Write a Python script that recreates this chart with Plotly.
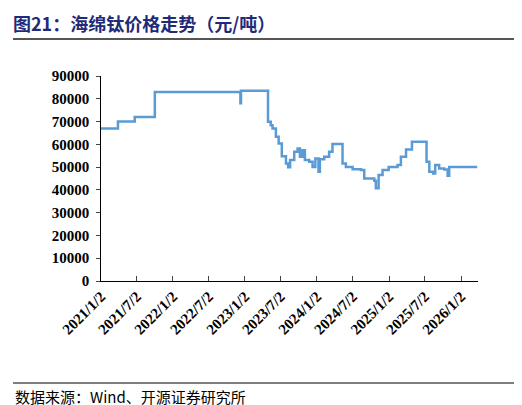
import plotly.graph_objects as go

dates = ["2021-01-02", "2021-03-29", "2021-06-22", "2021-10-02", "2022-12-10", "2022-12-13",
         "2023-04-26", "2023-04-29", "2023-05-13", "2023-05-22", "2023-06-08", "2023-06-22",
         "2023-07-08", "2023-07-29", "2023-08-09", "2023-08-19", "2023-09-09", "2023-09-26",
         "2023-10-08", "2023-10-21", "2023-11-02", "2023-11-24", "2023-12-11", "2023-12-25",
         "2024-01-10", "2024-01-17", "2024-02-08", "2024-03-04", "2024-03-21", "2024-04-27",
         "2024-05-11", "2024-05-28", "2024-07-01", "2024-08-12", "2024-08-29", "2024-10-19",
         "2024-10-27", "2024-11-10", "2024-11-30", "2024-12-31", "2025-02-14", "2025-03-03",
         "2025-03-29", "2025-04-28", "2025-07-05", "2025-07-11", "2025-07-25", "2025-08-14",
         "2025-08-24", "2025-09-13", "2025-10-09", "2025-10-26", "2025-11-03", "2026-03-25"]
prices = [67000, 70000, 72000, 83000, 78000, 83500,
          83500, 69900, 68400, 66900, 63300, 60400,
          54800, 51600, 49900, 53100, 56700, 58200,
          54500, 57400, 53100, 52300, 50100, 53800,
          48000, 53400, 54500, 56700, 60100, 60100,
          51600, 50100, 49100, 48700, 45000, 44000,
          40700, 46500, 48700, 50100, 50900, 54500,
          57700, 61100, 61100, 52300, 48000, 47200,
          50900, 49400, 49000, 46200, 50100, 50100]
tick_dates = ["2021-01-02", "2021-07-02", "2022-01-02", "2022-07-02", "2023-01-02", "2023-07-02",
              "2024-01-02", "2024-07-02", "2025-01-02", "2025-07-02", "2026-01-02"]
tick_labels = ["2021/1/2", "2021/7/2", "2022/1/2", "2022/7/2", "2023/1/2", "2023/7/2",
               "2024/1/2", "2024/7/2", "2025/1/2", "2025/7/2", "2026/1/2"]

fig = go.Figure(go.Scatter(x=dates, y=prices, mode="lines", line_shape="hv",
                           line=dict(color="#5B9BD5", width=2.5)))

serif = "Liberation Serif"
fig.update_layout(
    width=522, height=405, margin=dict(l=93, r=52, t=68, b=132),
    plot_bgcolor="white", paper_bgcolor="white", showlegend=False,
    font=dict(family=serif, size=14, color="black"),
    xaxis=dict(range=["2021-01-02", "2026-03-29"], tickmode="array", tickvals=tick_dates,
               ticktext=["<b>%s</b>" % t for t in tick_labels], tickangle=-45,
               ticks="inside", ticklen=5, automargin=False,
               showline=True, linecolor="black", showgrid=False, zeroline=False,
               tickfont=dict(family=serif, size=15, color="black")),
    yaxis=dict(range=[0, 90000], dtick=10000, tickformat="d", ticks="outside", ticklen=4,
               automargin=False, ticksuffix=" ",
               showline=True, linecolor="black", showgrid=False, zeroline=False,
               tickfont=dict(family=serif, size=15, color="black", weight="bold")),
    annotations=[
        dict(text="<b>图21：海绵钛价格走势（元/吨）</b>", xref="paper", yref="paper",
             x=-90/377, y=1 + 53/205, xanchor="left", yanchor="middle", showarrow=False,
             font=dict(family="Noto Sans CJK SC", size=18, color="#1F2A78")),
        dict(text="数据来源：Wind、开源证券研究所", xref="paper", yref="paper",
             x=-88/377, y=-115/205, xanchor="left", yanchor="middle", showarrow=False,
             font=dict(family="Noto Sans CJK SC", size=15, color="black")),
    ],
    shapes=[
        dict(type="line", xref="paper", yref="paper", x0=-88/377, x1=1 + 52/377,
             y0=1 + 37/205, y1=1 + 37/205, line=dict(color="#555555", width=2)),
        dict(type="line", xref="paper", yref="paper", x0=-88/377, x1=1 + 52/377,
             y0=-102/205, y1=-102/205, line=dict(color="black", width=1)),
    ],
)
fig.write_html("out.html")
